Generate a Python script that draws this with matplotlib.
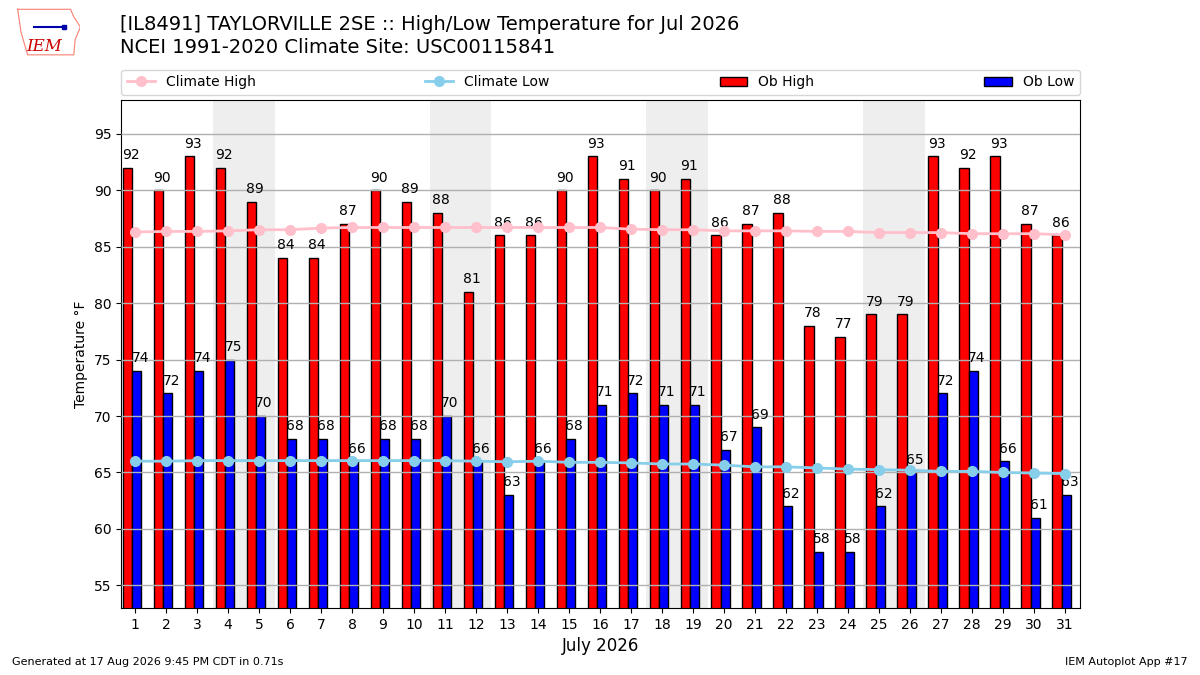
import matplotlib
matplotlib.use("Agg")
import matplotlib.pyplot as plt
import numpy as np

#--------------------------------------
# data
days = np.arange(1, 32)
ob_high = [92, 90, 93, 92, 89, 84, 84, 87, 90, 89, 88, 81, 86, 86, 90, 93,
           91, 90, 91, 86, 87, 88, 78, 77, 79, 79, 93, 92, 93, 87, 86]
ob_low = [74, 72, 74, 75, 70, 68, 68, 66, 68, 68, 70, 66, 63, 66, 68, 71,
          72, 71, 71, 67, 69, 62, 58, 58, 62, 65, 72, 74, 66, 61, 63]
clim_high = [86.3, 86.35, 86.35, 86.4, 86.5, 86.5, 86.65, 86.7, 86.7, 86.7,
             86.7, 86.7, 86.7, 86.7, 86.7, 86.7, 86.55, 86.5, 86.5, 86.4,
             86.4, 86.4, 86.35, 86.35, 86.25, 86.25, 86.25, 86.15, 86.15,
             86.15, 86.05]
clim_low = [66.0, 66.0, 66.05, 66.05, 66.05, 66.05, 66.05, 66.05, 66.05,
            66.05, 66.05, 66.0, 65.95, 66.0, 65.9, 65.9, 65.85, 65.75, 65.75,
            65.65, 65.5, 65.5, 65.4, 65.3, 65.25, 65.2, 65.1, 65.1, 65.0,
            64.95, 64.9]
weekends = [4, 11, 18, 25]  # saturdays, shade sat+sun

#--------------------------------------
fig = plt.figure(figsize=(12, 6.75), dpi=100)
ax = fig.add_axes([0.101, 0.0993, 0.7992, 0.7527])

for sat in weekends:
    ax.axvspan(sat - 0.5, sat + 1.5, color="#eeeeee", zorder=0, lw=0)

bh = ax.bar(days - 0.4, ob_high, width=0.3, align="edge", color="r",
            edgecolor="k", label="Ob High", zorder=1)
bl = ax.bar(days - 0.1, ob_low, width=0.3, align="edge", color="b",
            edgecolor="k", label="Ob Low", zorder=1)

for d, hi, lo in zip(days, ob_high, ob_low):
    ax.text(d - 0.42, hi + 0.5, "%.0f" % hi, ha="left", va="bottom", fontsize=10)
    ax.text(d - 0.12, lo + 0.5, "%.0f" % lo, ha="left", va="bottom", fontsize=10)

ch, = ax.plot(days, clim_high, color="pink", marker="o", ms=7, lw=2,
              label="Climate High", zorder=3)
cl, = ax.plot(days, clim_low, color="skyblue", marker="o", ms=7, lw=2,
              label="Climate Low", zorder=3)

ax.set_xlim(0.55, 31.5)
ax.set_ylim(53, 98)
ax.set_xticks(days)
ax.set_yticks(np.arange(55, 96, 5))
ax.yaxis.grid(True, color="#b0b0b0", lw=1)
ax.set_axisbelow(False)
ax.set_ylabel("Temperature \u00b0F")
ax.set_xlabel("July 2026", fontsize=12)

ax.legend([ch, cl, bh, bl], ["Climate High", "Climate Low", "Ob High", "Ob Low"],
          ncol=4, loc="lower left", mode="expand",
          bbox_to_anchor=(0, 1.01, 1, 0.05), borderaxespad=0, fontsize=10)

fig.text(0.1, 0.963, "[IL8491] TAYLORVILLE 2SE :: High/Low Temperature for Jul 2026",
         fontsize=14, va="center")
fig.text(0.1, 0.930, "NCEI 1991-2020 Climate Site: USC00115841",
         fontsize=14, va="center")
fig.text(0.01, 0.015, "Generated at 17 Aug 2026 9:45 PM CDT in 0.71s", fontsize=8)
fig.text(0.99, 0.015, "IEM Autoplot App #17", fontsize=8, ha="right")

# rough IEM logo
lax = fig.add_axes([0.012, 0.915, 0.055, 0.075])
lax.set_axis_off()
lax.set_xlim(0, 1)
lax.set_ylim(0, 1)
lax.plot([0.05, 0.85, 0.9, 1.0, 0.92, 0.9, 0.2, 0.1, 0.05],
         [0.95, 0.95, 0.8, 0.6, 0.35, 0.05, 0.05, 0.5, 0.95],
         color="salmon", lw=0.8)
lax.text(0.45, 0.22, "IEM", color="#cc0000", fontsize=12, style="italic",
         family="DejaVu Serif", ha="center", va="center")
lax.plot([0.3, 0.75], [0.6, 0.6], color="#0000aa", lw=1.5)
lax.plot([0.75], [0.6], "s", color="#0000aa", ms=3)

fig.savefig("out.png", dpi=100)
